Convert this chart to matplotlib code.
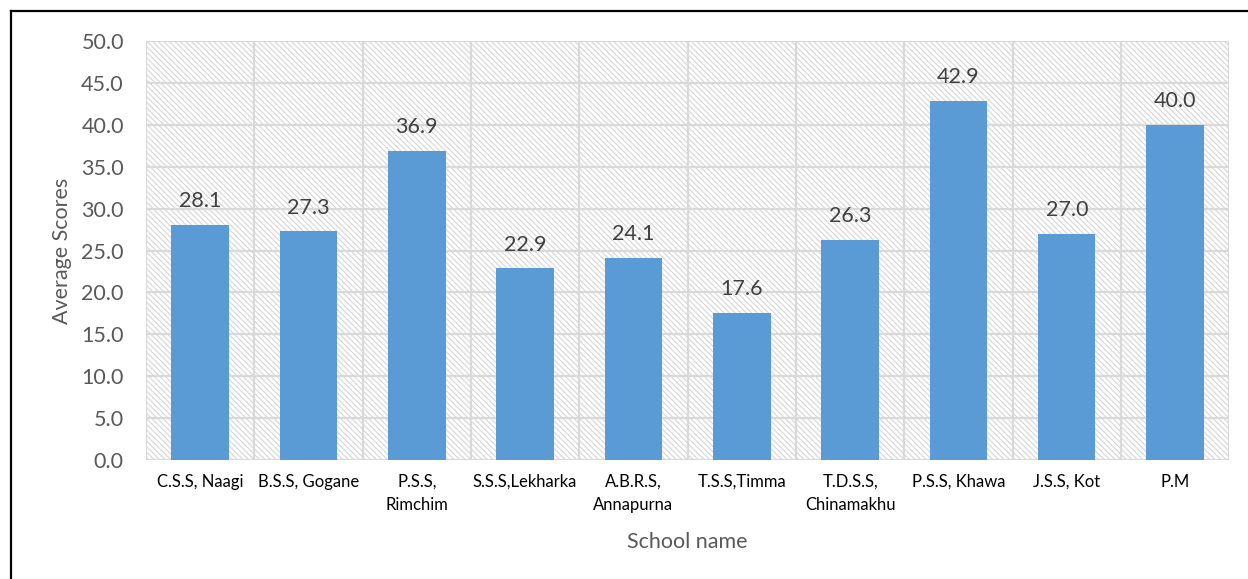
import matplotlib.pyplot as plt
from matplotlib.lines import Line2D
from matplotlib.patches import Rectangle

schools = ["C.S.S, Naagi", "B.S.S, Gogane", "P.S.S,\nRimchim", "S.S.S,Lekharka",
           "A.B.R.S,\nAnnapurna", "T.S.S,Timma", "T.D.S.S,\nChinamakhu",
           "P.S.S, Khawa", "J.S.S, Kot", "P.M"]
avg_scores = [28.1, 27.3, 36.9, 22.9, 24.1, 17.6, 26.3, 42.9, 27.0, 40.0]
y_ticks = [0, 5, 10, 15, 20, 25, 30, 35, 40, 45, 50]

plt.rcParams["font.family"] = ["Lato", "DejaVu Sans"]
plt.rcParams["hatch.linewidth"] = 0.8
plt.rcParams["hatch.color"] = "#d6d6d6"

fig = plt.figure(figsize=(12.48, 5.79), dpi=100)
ax = fig.add_axes([0.117, 0.2055, 0.868, 0.7235])

# hatched plot-area background
ax.add_patch(Rectangle((0, 0), 1, 1, transform=ax.transAxes, facecolor="white",
                       edgecolor="#d6d6d6", hatch="\\\\\\\\\\\\", linewidth=0, zorder=0))

x = list(range(len(schools)))
ax.bar(x, avg_scores, width=0.53, color="#5b9bd5", zorder=3)

for xi, v in zip(x, avg_scores):
    ax.annotate(f"{v:.1f}", (xi, v), xytext=(0, 17), textcoords="offset points",
                ha="center", va="center", fontsize=15.5, color="#404040", zorder=4)

ax.set_xlim(-0.5, len(schools) - 0.5)
ax.set_ylim(0, 50)
ax.set_yticks(y_ticks)
ax.set_yticklabels([f"{t:.1f}" for t in y_ticks], fontsize=15.5, color="#595959")
ax.set_xticks(x)
ax.set_xticklabels(schools, fontsize=12, color="#000000", linespacing=1.55)
ax.tick_params(axis="y", length=0, pad=16)
ax.tick_params(axis="x", length=0, pad=10)

# Excel-style gridlines: horizontal at ticks, vertical at category boundaries
for t in y_ticks:
    ax.axhline(t, color="#d9d9d9", linewidth=1.6, zorder=1)
for b in [i - 0.5 for i in range(len(schools) + 1)]:
    ax.axvline(b, color="#d9d9d9", linewidth=1.6, zorder=1)

for s in ax.spines.values():
    s.set_visible(False)

ax.set_ylabel("Average Scores", fontsize=15.5, color="#595959")
ax.set_xlabel("School name", fontsize=15.5, color="#595959", labelpad=14)
ax.yaxis.set_label_coords(-0.068, 0.5)

# outer frame (only top and left edges visible in the crop)
fig.add_artist(Line2D([11 / 1248, 11 / 1248], [0, 1 - 11 / 579], color="black",
                      linewidth=1.6, transform=fig.transFigure))
fig.add_artist(Line2D([11 / 1248, 1], [1 - 11 / 579, 1 - 11 / 579], color="black",
                      linewidth=1.6, transform=fig.transFigure))

fig.savefig("out.png", dpi=100)
plt.close(fig)
